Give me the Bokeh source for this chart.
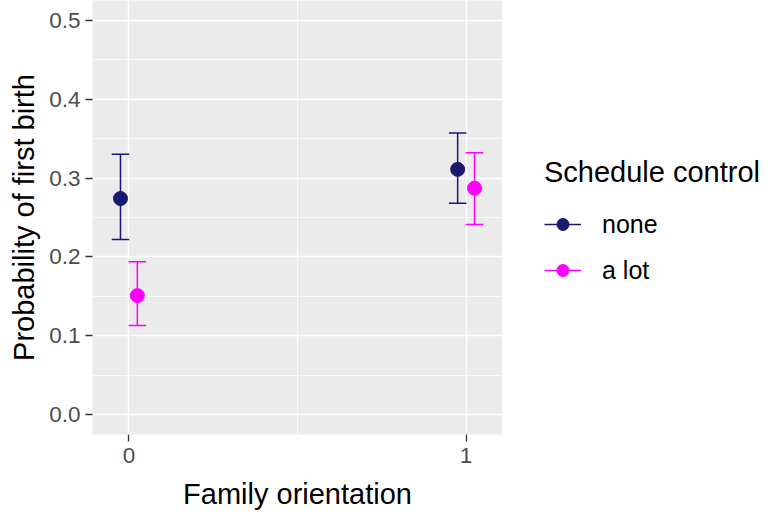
from bokeh.plotting import figure
from bokeh.layouts import row
from bokeh.models import (ColumnDataSource, Range1d, FixedTicker, NumeralTickFormatter,
                          Legend, LegendItem)
from bokeh.embed import file_html
from bokeh.resources import INLINE

# ---- data ----
family = [0, 1]
x_ticks = [0, 1]
y_ticks = [0.0, 0.1, 0.2, 0.3, 0.4, 0.5]
groups = ["none", "a lot"]
none_prob = [0.274, 0.311]
none_lo = [0.222, 0.268]
none_hi = [0.330, 0.357]
alot_prob = [0.151, 0.287]
alot_lo = [0.113, 0.241]
alot_hi = [0.194, 0.332]

# ---- styling ----
FONT = "Liberation Sans"
colors = {"none": "#191970", "a lot": "#FF00FF"}
offsets = {"none": -0.025, "a lot": 0.025}
cap_half = 0.026

H = 512
PW, LW = 502, 260
p = figure(width=PW, height=H, output_backend="svg", toolbar_location=None,
           x_range=Range1d(-0.108, 1.108), y_range=Range1d(-0.025, 0.525),
           min_border_left=92, min_border_right=0, min_border_top=0,
           min_border_bottom=0)
p.background_fill_color = "#EBEBEB"
p.border_fill_color = "white"
p.outline_line_color = None

p.xaxis.ticker = FixedTicker(ticks=x_ticks, minor_ticks=[0.5])
p.yaxis.ticker = FixedTicker(ticks=y_ticks, minor_ticks=[0.05, 0.15, 0.25, 0.35, 0.45])
p.yaxis.formatter = NumeralTickFormatter(format="0.0")

for ax in (p.xaxis, p.yaxis):
    ax.axis_line_color = None
    ax.major_tick_line_color = "#333333"
    ax.major_tick_line_width = 1.3
    ax.major_tick_out = 7
    ax.major_tick_in = 0
    ax.minor_tick_line_color = None
    ax.major_label_text_font = FONT
    ax.major_label_text_font_size = "22.5px"
    ax.major_label_text_color = "#4D4D4D"
    ax.axis_label_text_font = FONT
    ax.axis_label_text_font_size = "29px"
    ax.axis_label_text_font_style = "normal"
    ax.axis_label_text_color = "black"
p.xaxis.axis_label = "Family orientation"
p.yaxis.axis_label = "Probability of first birth"
p.xaxis.major_label_standoff = 6
p.yaxis.major_label_standoff = 5
p.xaxis.axis_label_standoff = 12
p.yaxis.axis_label_standoff = 6

p.grid.grid_line_color = "white"
p.grid.grid_line_width = 1.4
p.grid.minor_grid_line_color = "white"
p.grid.minor_grid_line_width = 0.7

data = {
    "none": (none_prob, none_lo, none_hi),
    "a lot": (alot_prob, alot_lo, alot_hi),
}
for g in groups:
    prob, lo, hi = data[g]
    xs = [f + offsets[g] for f in family]
    src = ColumnDataSource(dict(x=xs, y=prob, lo=lo, hi=hi,
                                x0=[v - cap_half for v in xs],
                                x1=[v + cap_half for v in xs]))
    p.segment(x0="x", y0="lo", x1="x", y1="hi", source=src,
              line_color=colors[g], line_width=1.5)
    p.segment(x0="x0", y0="lo", x1="x1", y1="lo", source=src,
              line_color=colors[g], line_width=1.5)
    p.segment(x0="x0", y0="hi", x1="x1", y1="hi", source=src,
              line_color=colors[g], line_width=1.5)
    p.scatter(x="x", y="y", source=src, size=14, fill_color=colors[g],
              line_color=colors[g])

# ---- legend panel (separate blank figure beside the plot) ----
lg = figure(width=LW, height=H, output_backend="svg", toolbar_location=None,
            x_range=Range1d(0, 1), y_range=Range1d(0, 1),
            x_axis_type=None, y_axis_type=None,
            min_border_left=0, min_border_right=0, min_border_top=0,
            min_border_bottom=0)
lg.grid.visible = False
lg.outline_line_color = None
lg.background_fill_color = "white"

nan = float("nan")
items = []
for g in groups:
    keysrc = ColumnDataSource(dict(x=[nan], y=[nan]))  # legend keys only, draws nothing
    ln = lg.line(x="x", y="y", source=keysrc, line_color=colors[g], line_width=1.5)
    pt = lg.scatter(x="x", y="y", source=keysrc, size=14, fill_color=colors[g],
                    line_color=colors[g])
    items.append(LegendItem(label=g, renderers=[ln, pt]))

legend = Legend(items=items, title="Schedule control",
                location=(42, 149),
                title_text_font=FONT, title_text_font_size="29px",
                title_text_font_style="normal", title_text_color="black",
                label_text_font=FONT, label_text_font_size="25px",
                label_text_color="black",
                glyph_width=37, glyph_height=30, label_height=30,
                label_standoff=21, spacing=16, title_standoff=20,
                padding=0, margin=0, border_line_color=None,
                background_fill_alpha=0)
lg.add_layout(legend, "center")

layout = row(p, lg, spacing=0)
open("out.html", "w").write(file_html(layout, INLINE))
